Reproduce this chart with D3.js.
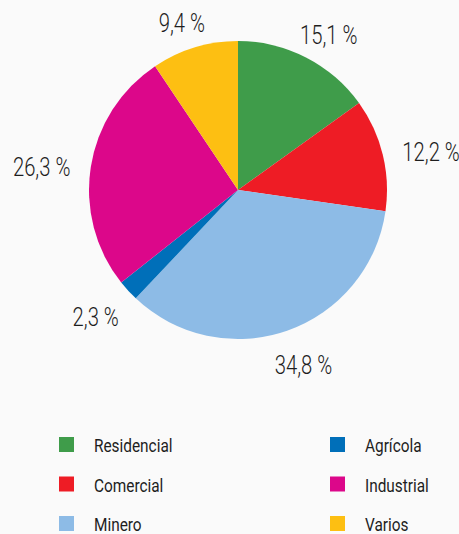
<!DOCTYPE html>
<html>
<head>
<meta charset="utf-8">
<script src="https://cdn.jsdelivr.net/npm/d3@7"></script>
<style>
  body { margin: 0; background: #fafafa; }
  svg { display: block; font-family: Roboto, "Liberation Sans", sans-serif; }
</style>
</head>
<body>
<svg id="chart" width="459" height="534"></svg>
<script>
// Datos del gráfico
const categories = ['Residencial', 'Comercial', 'Minero', 'Agrícola', 'Industrial', 'Varios'];
const values = [15.1, 12.2, 34.8, 2.3, 26.3, 9.4];
const colors = ['#3f9c4a', '#ee1c25', '#8dbbe6', '#006fb9', '#dc078a', '#fdbf12'];
const legendOrder = ['Residencial', 'Comercial', 'Minero', 'Agrícola', 'Industrial', 'Varios'];

const svg = d3.select('#chart');
const cx = 238, cy = 190, radius = 149;
const labelRadius = 170;
const SX = 0.81; // estrechar la fuente (condensada)

const color = d3.scaleOrdinal().domain(categories).range(colors);

const pie = d3.pie().sort(null).value(d => d.value);
const arcs = pie(categories.map((c, i) => ({ name: c, value: values[i] })));

const arc = d3.arc().innerRadius(0).outerRadius(radius);

const g = svg.append('g').attr('transform', `translate(${cx},${cy})`);

g.selectAll('path')
  .data(arcs)
  .enter()
  .append('path')
  .attr('d', arc)
  .attr('fill', d => color(d.data.name));

// Etiquetas de porcentaje, desplazadas hacia fuera según su tamaño
const labels = g.selectAll('text')
  .data(arcs)
  .enter()
  .append('text')
  .attr('text-anchor', 'middle')
  .attr('dominant-baseline', 'central')
  .attr('fill', '#1e1e1e')
  .style('font-size', '25px')
  .style('font-weight', 300)
  .text(d => d3.format('.1f')(d.data.value).replace('.', ',') + ' %');

labels.attr('transform', function (d) {
  const a = (d.startAngle + d.endAngle) / 2;
  const w = this.getComputedTextLength() * SX;
  const h = 20;
  const x = Math.sin(a) * (labelRadius + w / 2);
  const y = -Math.cos(a) * (labelRadius + h / 2) + 6;
  return `translate(${x},${y}) scale(${SX},1)`;
});

// Leyenda
const LEGEND_RECT = 15;
const legendX = [59, 330];
const legendY0 = 437, legendStep = 39.5;

const legendElem = svg.selectAll('g.legend')
  .data(legendOrder)
  .enter()
  .append('g')
  .attr('class', 'legend')
  .attr('transform', (d, i) => `translate(${legendX[Math.floor(i / 3)]},${legendY0 + (i % 3) * legendStep})`);

legendElem.append('rect')
  .attr('width', LEGEND_RECT)
  .attr('height', LEGEND_RECT)
  .attr('fill', d => color(d));

legendElem.append('text')
  .attr('transform', `translate(35,${LEGEND_RECT}) scale(${SX},1)`)
  .attr('fill', '#1e1e1e')
  .style('font-size', '19px')
  .text(d => d);
</script>
</body>
</html>
